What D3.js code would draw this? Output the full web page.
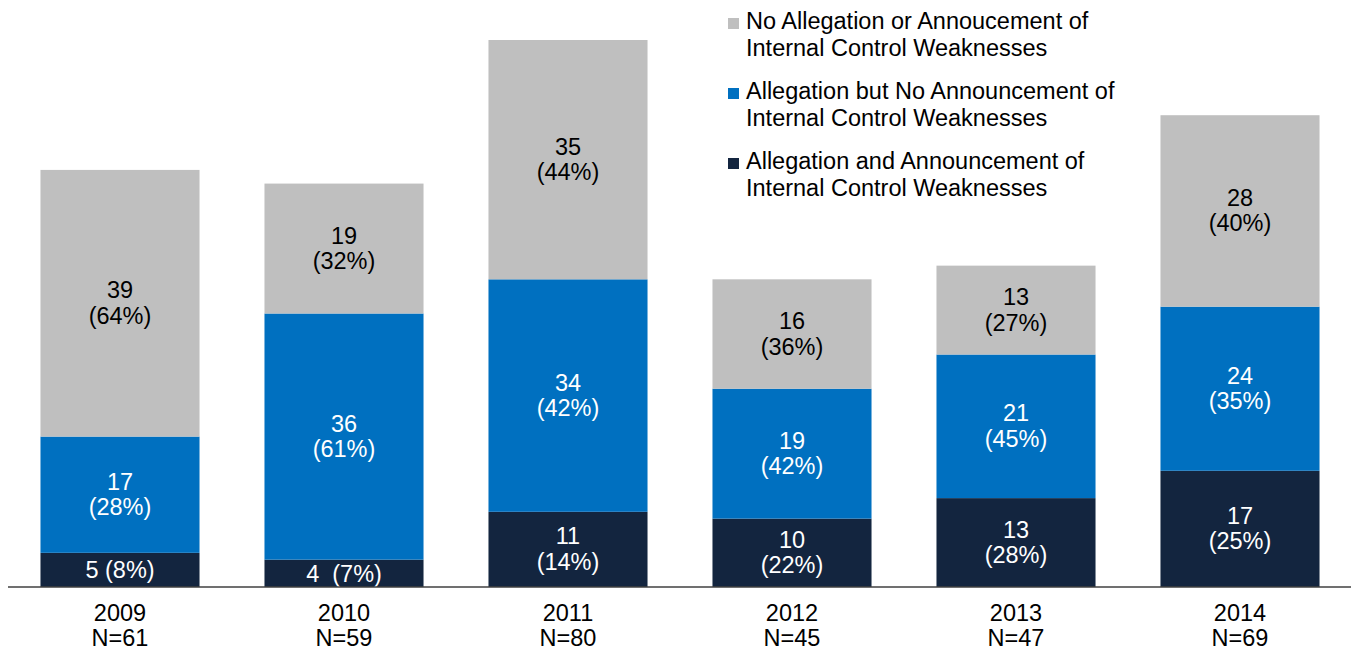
<!DOCTYPE html>
<html>
<head>
<meta charset="utf-8">
<script src="https://cdn.jsdelivr.net/npm/d3@7"></script>
<style>
  body { margin: 0; background: #fff; }
  text { font-family: "Liberation Sans", Arial, sans-serif; }
</style>
</head>
<body>
<script>
const years = ["2009", "2010", "2011", "2012", "2013", "2014"];
const totals = ["N=61", "N=59", "N=80", "N=45", "N=47", "N=69"];
const both = [5, 4, 11, 10, 13, 17];
const allegOnly = [17, 36, 34, 19, 21, 24];
const neither = [39, 19, 35, 16, 13, 28];
const bothPct = ["(8%)", "(7%)", "(14%)", "(22%)", "(28%)", "(25%)"];
const allegPct = ["(28%)", "(61%)", "(42%)", "(42%)", "(45%)", "(35%)"];
const neitherPct = ["(64%)", "(32%)", "(44%)", "(36%)", "(27%)", "(40%)"];
const seriesNames = [
  ["No Allegation or Annoucement of", "Internal Control Weaknesses"],
  ["Allegation but No Announcement of", "Internal Control Weaknesses"],
  ["Allegation and Announcement of", "Internal Control Weaknesses"]
];

const W = 1351, H = 652;
const colors = { both: "#13253f", alleg: "#0070c0", neither: "#bfbfbf" };
const fs = 23.5;

const svg = d3.select("body").append("svg")
    .attr("width", W)
    .attr("height", H);

// band scale for the years, linear for the counts
const x = d3.scaleBand()
    .domain(years)
    .range([8, 1352])
    .paddingInner(0.29)
    .paddingOuter(0.145);

const y = d3.scaleLinear()
    .domain([0, 80])
    .range([587, 40]);

// stack rows
const rows = years.map((yr, i) => ({
  year: yr, both: both[i], alleg: allegOnly[i], neither: neither[i]
}));
const stack = d3.stack().keys(["both", "alleg", "neither"])(rows);

const pctMap = { both: bothPct, alleg: allegPct, neither: neitherPct };

stack.forEach(layer => {
  const key = layer.key;
  svg.append("g").selectAll("rect")
    .data(layer)
    .enter()
    .append("rect")
    .attr("x", (d, i) => x(years[i]))
    .attr("y", d => y(d[1]))
    .attr("width", x.bandwidth())
    .attr("height", d => y(d[0]) - y(d[1]))
    .attr("fill", colors[key]);

  const lab = svg.append("g").selectAll("text")
    .data(layer)
    .enter()
    .append("text")
    .attr("text-anchor", "middle")
    .attr("font-size", fs)
    .attr("fill", key === "neither" ? "#000" : "#fff");

  lab.each(function(d, i) {
    const cx = x(years[i]) + x.bandwidth() / 2;
    const cy = (y(d[0]) + y(d[1])) / 2;
    const t = d3.select(this);
    const v = d.data[key];
    if (key === "both" && (i === 0 || i === 1)) {
      // small segments: single line
      t.attr("x", cx).attr("y", cy + 8.5)
        .attr("xml:space", "preserve")
        .text(v + (i === 1 ? "  " : " ") + pctMap[key][i]);
    } else {
      t.append("tspan").attr("x", cx).attr("y", cy - 5).text(v);
      t.append("tspan").attr("x", cx).attr("y", cy + 20.5).text(pctMap[key][i]);
    }
  });
});

// baseline
svg.append("line")
    .attr("x1", 8).attr("x2", W)
    .attr("y1", y(0)).attr("y2", y(0))
    .attr("stroke", "#404040")
    .attr("stroke-width", 1.5);

// x labels
const xl = svg.append("g").selectAll("text")
    .data(years)
    .enter()
    .append("text")
    .attr("text-anchor", "middle")
    .attr("font-size", fs)
    .attr("fill", "#000");
xl.append("tspan")
    .attr("x", d => x(d) + x.bandwidth() / 2)
    .attr("y", 621)
    .text(d => d);
xl.append("tspan")
    .attr("x", d => x(d) + x.bandwidth() / 2)
    .attr("y", 646)
    .text((d, i) => totals[i]);

// legend
const legColors = [colors.neither, colors.alleg, colors.both];
const leg = svg.append("g").attr("transform", "translate(728,0)");
seriesNames.forEach((lines, i) => {
  const top = 29 + i * 70;
  leg.append("rect")
      .attr("x", 0).attr("y", top - 11)
      .attr("width", 11).attr("height", 11)
      .attr("fill", legColors[i]);
  lines.forEach((ln, j) => {
    leg.append("text")
        .attr("x", 18)
        .attr("y", top + j * 27)
        .attr("font-size", fs)
        .attr("fill", "#000")
        .text(ln);
  });
});
</script>
</body>
</html>
